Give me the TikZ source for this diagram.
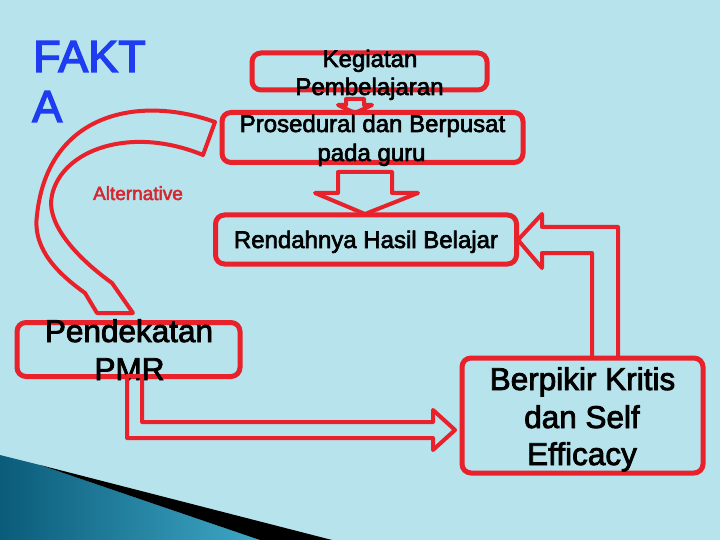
\documentclass[tikz,border=0pt]{standalone}
\usepackage{fontspec}
\setmainfont{Liberation Sans}
\newfontfamily\heavysans[FakeBold=2.6]{Liberation Sans}
\newfontfamily\titlesans[FakeBold=3]{Liberation Sans}
\definecolor{bg}{HTML}{B6E3EC}
\definecolor{boxred}{HTML}{E8212B}
\definecolor{faktablue}{HTML}{1E3CF0}
\definecolor{tealdark}{HTML}{0A5C7A}
\definecolor{teallight}{HTML}{3FA7C6}
\definecolor{altred}{HTML}{D8262F}
\begin{document}
\begin{tikzpicture}[x=1pt,y=-1pt,
  redbox/.style={draw=boxred, line width=5pt, rounded corners=9pt, inner sep=0pt},
  blockarrow/.style={draw=boxred, line width=4pt, line join=round},
  boxtext/.style={font=\heavysans\fontsize{24}{28}\selectfont, anchor=base, text=black, inner sep=0pt},
  bigtext/.style={font=\heavysans\fontsize{31.5}{37.8}\selectfont, anchor=base, text=black, inner sep=0pt},
  titletext/.style={font=\titlesans\fontsize{45}{54}\selectfont, anchor=base west, text=faktablue, inner sep=0pt},
]
% background
\fill[bg] (0,0) rectangle (720,540);
\useasboundingbox (0,0) rectangle (720,540);
% bottom-left wedge
\shade[left color=tealdark, right color=teallight] (0,455) -- (40,465) -- (260,540) -- (0,540) -- cycle;
\fill[black] (40,465) -- (332,540) -- (260,540) -- cycle;

% title
\node[titletext] (fakt1) at (33,72) {FAKT};
\node[titletext] (fakt2) at (32,122) {A};

% boxes
\node[redbox, minimum width=235pt, minimum height=37pt] (keg) at (369.5,71.5) {};
\node[redbox, minimum width=301pt, minimum height=50pt] (pros) at (372.5,137.5) {};
\node[redbox, minimum width=301pt, minimum height=49pt] (rend) at (366,239.5) {};
\node[redbox, minimum width=223pt, minimum height=54pt] (pmr) at (128.5,349.5) {};
\node[redbox, minimum width=241pt, minimum height=115pt] (berp) at (582.5,415.5) {};

% texts
\node[boxtext] (kegA) at (370,67) {Kegiatan};
\node[boxtext] (kegB) at (369.5,95) {Pembelajaran};
\node[boxtext] (prosA) at (372.5,132) {Prosedural dan Berpusat};
\node[boxtext] (prosB) at (371.5,161) {pada guru};
\node[boxtext] (rendA) at (366,248) {Rendahnya Hasil Belajar};
\node[bigtext] (pmrA) at (129,342) {Pendekatan};
\node[bigtext] (pmrB) at (129.5,380) {PMR};
\node[bigtext] (berpA) at (582.5,390) {Berpikir Kritis};
\node[bigtext] (berpB) at (582,428) {dan Self};
\node[bigtext] (berpC) at (582,465) {Efficacy};
\node[font=\heavysans\fontsize{19}{22}\selectfont, text=altred, anchor=base, inner sep=0pt] (alt) at (138,200) {Alternative};

% small arrow keg -> pros
\draw[blockarrow] (346,99) -- (364,99) -- (364,105) -- (372,105) -- (355,113) -- (338,105) -- (346,105) -- cycle;
% big arrow pros -> rend
\draw[blockarrow] (338,172) -- (392,172) -- (392,193) -- (418,193) -- (365,214) -- (315,193) -- (338,193) -- cycle;
% arrow berp -> rend
\draw[blockarrow] (592,357) -- (592,253) -- (542,253) -- (542,268) -- (518,240) -- (542,214) -- (542,227) -- (618,227) -- (618,357);
% arrow pmr -> berp
\draw[blockarrow] (127,376) -- (127,438) -- (433,438) -- (433,450) -- (455,430) -- (433,410) -- (433,422) -- (142,422) -- (142,376) -- cycle;
% curved arrow pros -> pmr
\draw[blockarrow] (215,122) .. controls (140,95) and (48,112) .. (37,215)
  .. controls (32,250) and (60,275) .. (85,293) -- (97,313) -- (133,313) -- (112,283)
  .. controls (80,260) and (45,225) .. (52,195)
  .. controls (62,150) and (130,125) .. (203,155) -- cycle;
\end{tikzpicture}
\end{document}
